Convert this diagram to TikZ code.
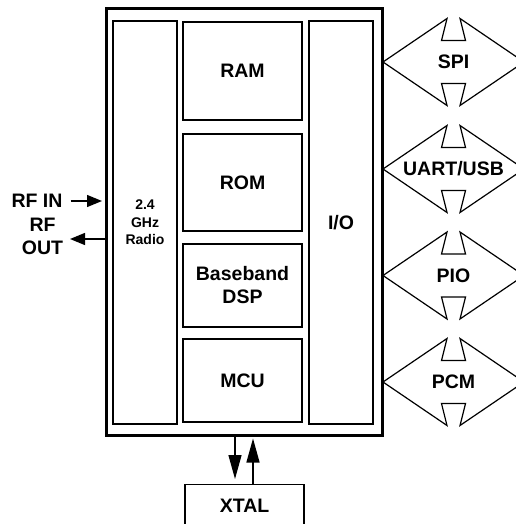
\documentclass[tikz,border=0pt]{standalone}
\usepackage{fontspec}
\setmainfont{Liberation Sans}
\usetikzlibrary{arrows.meta}
\begin{document}
\begin{tikzpicture}[x=1pt,y=-1pt,
  blk/.style={draw, line width=1.4pt, inner sep=0pt},
  lbl/.style={font=\fontsize{19.5}{23}\selectfont\bfseries, align=center, inner sep=1pt},
  sml/.style={font=\fontsize{14}{17.5}\selectfont\bfseries, align=center},
  arr/.style={-{Triangle[length=15pt,width=12pt]}, line width=1.3pt},
  larr/.style={-{Triangle[length=24pt,width=13pt]}, line width=1.3pt},
  iface/.style={draw, line width=1.2pt, line join=miter}
]
\useasboundingbox (0,0) rectangle (515,524);
% outer chip
\node[blk, line width=3pt, minimum width=276pt, minimum height=426pt] (outer) at (244,222) {};
% columns
\node[blk, minimum width=64pt, minimum height=403pt, sml] (radio) at (145,222.5) {2.4\\GHz\\Radio};
\node[blk, minimum width=64pt, minimum height=403pt, lbl] (io) at (341,222.5) {I/O};
% middle blocks
\node[blk, minimum width=119pt, minimum height=98pt, lbl] (ram) at (242.5,71) {RAM};
\node[blk, minimum width=119pt, minimum height=97pt, lbl] (rom) at (242.5,182.5) {ROM};
\node[blk, minimum width=119pt, minimum height=83pt, lbl] (dsp) at (242.5,285.5) {Baseband\\DSP};
\node[blk, minimum width=119pt, minimum height=83pt, lbl] (mcu) at (242.5,380.5) {MCU};
% XTAL
\node[blk, minimum width=119pt, minimum height=42pt, lbl, anchor=north] (xtal) at (244.5,484) {XTAL};
\draw[larr] ([xshift=-9.5pt]xtal.north |- outer.south) -- ([xshift=-9.5pt,yshift=5pt]xtal.north);
\draw[larr] ([xshift=8.5pt]xtal.north) -- ([xshift=8.5pt,yshift=-2pt]xtal.north |- outer.south);
% RF
\node[lbl] (rfin) at (37,201) {RF IN};
\node[lbl] (rfout) at (42.5,236.5) {RF\\OUT};
\coordinate (rfoutend) at (70,239);
\draw[arr, shorten <=7pt, shorten >=2.5pt] (rfin.east) -- (rfin.east -| outer.west);
\draw[arr] (rfoutend -| outer.west) -- (rfoutend);
% interfaces
\node[lbl] (spi) at (453.5,62) {SPI};
\node[lbl] (uart) at (453.5,169) {UART/USB};
\node[lbl] (pio) at (453.5,275.5) {PIO};
\node[lbl] (pcm) at (453.5,382) {PCM};
\foreach \n in {spi,uart,pio,pcm}{
  \draw[iface, shift={(\n.center)}] (-70.5,0) -- (-6.5,-43.5) -- (-12,-21.5) -- (12,-21.5) -- (6.5,-43.5) -- (70.5,0) -- (6.5,43.5) -- (12,21.5) -- (-12,21.5) -- (-6.5,43.5) -- cycle;
}
\end{tikzpicture}
\end{document}
